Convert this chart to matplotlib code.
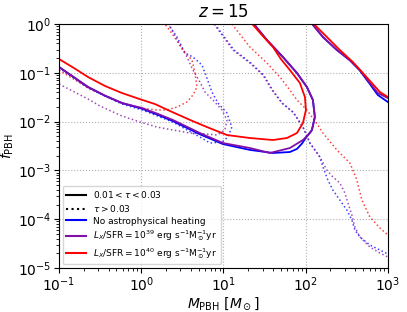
import numpy as np
import matplotlib
matplotlib.use("Agg")
import matplotlib.pyplot as plt
from matplotlib.lines import Line2D

# ---- data: log10(M_PBH / Msun), log10(f_PBH) ----
# solid (0.01 < tau < 0.03), main contour
red_solid_lm = [-1.0, -0.82, -0.647, -0.44, -0.234, -0.015, 0.167, 0.386, 0.60, 0.799, 1.043, 1.322, 1.602, 1.772, 1.894, 1.967, 2.003, 1.991, 1.930, 1.808, 1.70, 1.602, 1.47, 1.35]
red_solid_lf = [-0.717, -0.90, -1.086, -1.27, -1.414, -1.54, -1.64, -1.81, -1.97, -2.111, -2.275, -2.336, -2.377, -2.336, -2.234, -2.029, -1.762, -1.496, -1.209, -0.943, -0.72, -0.471, -0.23, 0.0]

purple_solid_lm = [-1.0, -0.82, -0.647, -0.44, -0.234, 0.009, 0.20, 0.386, 0.714, 0.994, 1.322, 1.565, 1.808, 1.967, 2.052, 2.076, 2.112, 2.088, 2.015, 1.894, 1.723, 1.529, 1.37]
purple_solid_lf = [-0.881, -1.09, -1.291, -1.47, -1.619, -1.721, -1.84, -1.967, -2.234, -2.439, -2.541, -2.643, -2.541, -2.377, -2.234, -2.172, -1.906, -1.557, -1.291, -1.004, -0.676, -0.328, 0.0]

blue_solid_lm = [-1.0, -0.82, -0.647, -0.44, -0.234, 0.009, 0.20, 0.386, 0.714, 0.994, 1.322, 1.602, 1.808, 1.894, 1.955, 2.003, 2.040, 2.076, 2.112, 2.088, 2.015, 1.894, 1.723, 1.529, 1.37]
blue_solid_lf = [-0.881, -1.09, -1.291, -1.47, -1.619, -1.735, -1.86, -1.99, -2.26, -2.46, -2.58, -2.643, -2.623, -2.56, -2.45, -2.33, -2.25, -2.172, -1.906, -1.557, -1.291, -1.004, -0.676, -0.328, 0.0]

# solid, upper-right contour
red_solid2_lm = [2.10, 2.258, 2.416, 2.574, 2.696, 2.805, 2.903, 3.0]
red_solid2_lf = [0.0, -0.266, -0.533, -0.779, -1.004, -1.209, -1.393, -1.496]
purple_solid2_lm = [2.08, 2.21, 2.38, 2.538, 2.66, 2.781, 2.878, 3.0]
purple_solid2_lf = [0.0, -0.266, -0.533, -0.738, -0.943, -1.209, -1.414, -1.516]
blue_solid2_lm = [2.08, 2.21, 2.38, 2.538, 2.66, 2.781, 2.878, 3.0]
blue_solid2_lf = [0.0, -0.266, -0.533, -0.745, -0.955, -1.23, -1.455, -1.598]

# dotted (tau > 0.03), left U-shaped contour
red_dot_lm = [-1.0, -0.647, -0.234, -0.015, 0.191, 0.313, 0.435, 0.556, 0.629, 0.678, 0.654, 0.617, 0.508, 0.386, 0.289]
red_dot_lf = [-0.943, -1.311, -1.619, -1.721, -1.762, -1.762, -1.701, -1.598, -1.455, -1.291, -1.004, -0.738, -0.533, -0.225, 0.0]

purple_dot_lm = [-1.0, -0.647, -0.502, -0.234, -0.015, 0.191, 0.386, 0.593, 0.799, 0.921, 1.018, 1.043, 0.982, 0.872, 0.775, 0.714, 0.629, 0.556, 0.471, 0.374, 0.337]
purple_dot_lf = [-1.23, -1.537, -1.68, -1.885, -2.008, -2.111, -2.172, -2.234, -2.254, -2.275, -2.172, -1.967, -1.762, -1.557, -1.393, -1.189, -0.943, -0.676, -0.43, -0.123, 0.0]

blue_dot_lm = [-1.0, -0.647, -0.234, 0.009, 0.386, 0.714, 0.836, 0.982, 1.055, 1.103, 1.079, 1.043, 0.933, 0.86, 0.799, 0.739, 0.629, 0.532, 0.435, 0.325]
blue_dot_lf = [-0.9, -1.31, -1.64, -1.76, -2.01, -2.316, -2.439, -2.418, -2.316, -2.111, -2.008, -1.824, -1.619, -1.393, -1.107, -0.84, -0.676, -0.594, -0.266, 0.0]

# dotted, middle contour down to the lower right
red_dot2_lm = [1.103, 1.322, 1.529, 1.687, 1.808, 1.894, 2.015, 2.149, 2.21, 2.38, 2.538, 2.623, 2.684, 2.781, 2.903, 3.0]
red_dot2_lf = [0.0, -0.471, -0.799, -1.086, -1.352, -1.557, -1.762, -2.07, -2.234, -2.582, -2.848, -3.197, -3.607, -3.955, -4.18, -4.324]

purple_dot2_lm = [0.885, 1.116, 1.322, 1.48, 1.59, 1.711, 1.845, 1.967, 2.052, 2.173, 2.258, 2.331, 2.416, 2.477, 2.514, 2.562, 2.599, 2.66, 2.781, 2.903, 3.0]
purple_dot2_lf = [0.0, -0.533, -0.799, -1.045, -1.352, -1.619, -1.803, -2.111, -2.439, -2.725, -2.992, -3.135, -3.258, -3.463, -3.668, -3.914, -4.16, -4.365, -4.57, -4.693, -4.775]

blue_dot2_lm = [0.895, 1.126, 1.335, 1.49, 1.60, 1.72, 1.85, 1.967, 2.052, 2.173, 2.21, 2.27, 2.331, 2.416, 2.501, 2.562, 2.599, 2.66, 2.781, 2.903, 3.0]
blue_dot2_lf = [0.0, -0.53, -0.80, -1.05, -1.36, -1.63, -1.81, -2.111, -2.439, -2.725, -2.93, -3.197, -3.402, -3.607, -3.811, -4.016, -4.221, -4.365, -4.529, -4.631, -4.713]

# ---- style ----
BLUE = "#0000ff"
PURPLE = "#8010a8"
RED = "#ff0000"

fig = plt.figure(figsize=(4.07, 3.12), dpi=100)
ax = fig.add_axes([0.145, 0.141, 0.808, 0.782])

def draw(lm, lf, color, ls):
    x = 10 ** np.asarray(lm)
    y = 10 ** np.asarray(lf)
    if ls == "-":
        ax.plot(x, y, color=color, ls="-", lw=1.3, solid_joinstyle="round")
    else:
        ax.plot(x, y, color=color, ls=":", lw=1.1, alpha=0.75)

# dotted first
draw(blue_dot_lm, blue_dot_lf, BLUE, ":")
draw(purple_dot_lm, purple_dot_lf, PURPLE, ":")
draw(red_dot_lm, red_dot_lf, RED, ":")
draw(blue_dot2_lm, blue_dot2_lf, BLUE, ":")
draw(purple_dot2_lm, purple_dot2_lf, PURPLE, ":")
draw(red_dot2_lm, red_dot2_lf, RED, ":")
# solid
draw(blue_solid_lm, blue_solid_lf, BLUE, "-")
draw(purple_solid_lm, purple_solid_lf, PURPLE, "-")
draw(red_solid_lm, red_solid_lf, RED, "-")
draw(blue_solid2_lm, blue_solid2_lf, BLUE, "-")
draw(purple_solid2_lm, purple_solid2_lf, PURPLE, "-")
draw(red_solid2_lm, red_solid2_lf, RED, "-")

ax.set_xscale("log")
ax.set_yscale("log")
ax.set_xlim(0.1, 1000)
ax.set_ylim(1e-5, 1)
ax.grid(True, which="major", ls=":", color="#b0b0b0", lw=0.8)
ax.tick_params(labelsize=10, pad=2)
ax.set_xlabel(r"$M_{\rm PBH}\ [M_\odot]$", fontsize=10, labelpad=1)
ax.set_ylabel(r"$f_{\rm PBH}$", fontsize=10, labelpad=1)
ax.set_title(r"$z = 15$", fontsize=12, pad=5)

handles = [
    Line2D([], [], color="black", ls="-", lw=1.5),
    Line2D([], [], color="black", ls=":", lw=1.5),
    Line2D([], [], color=BLUE, ls="-", lw=1.5),
    Line2D([], [], color=PURPLE, ls="-", lw=1.5),
    Line2D([], [], color=RED, ls="-", lw=1.5),
]
labels = [
    r"$0.01 < \tau < 0.03$",
    r"$\tau > 0.03$",
    "No astrophysical heating",
    r"$L_X/{\rm SFR} = 10^{39}$ erg s$^{-1}$M$_\odot^{-1}$yr",
    r"$L_X/{\rm SFR} = 10^{40}$ erg s$^{-1}$M$_\odot^{-1}$yr",
]
ax.legend(handles, labels, loc="lower left", fontsize=6.5, handlelength=2.2,
          labelspacing=0.3, framealpha=0.8, borderaxespad=0.4)

fig.savefig("out.png", dpi=100)
